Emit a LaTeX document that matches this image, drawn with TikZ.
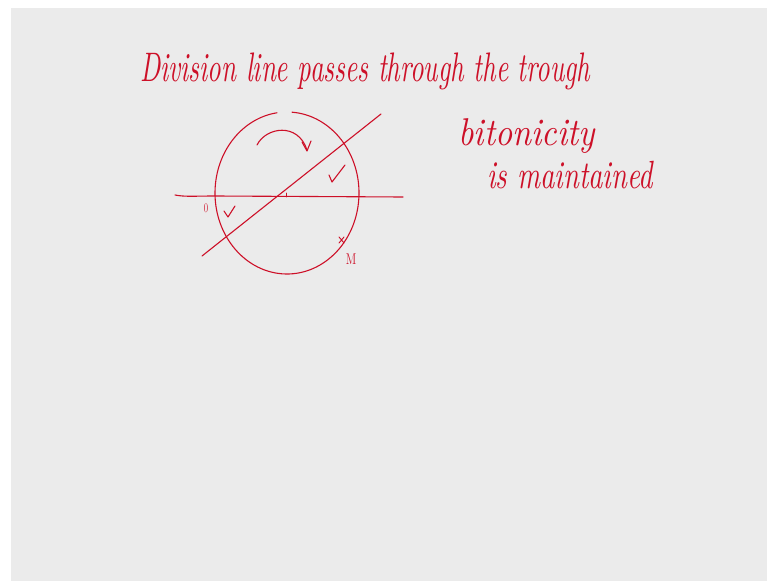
\documentclass[tikz,border=0pt]{standalone}
\usepackage{graphicx}
\definecolor{ink}{RGB}{205,16,40}
\definecolor{board}{RGB}{235,235,235}
\begin{document}
\begin{tikzpicture}[x=1pt,y=-1pt,
  pen/.style={draw=ink,line width=1.1pt,line cap=round,line join=round},
  hand/.style={text=ink,inner sep=0pt,font=\itshape}]
\useasboundingbox (0,0) rectangle (767,580);
\fill[white] (0,0) rectangle (767,580);
\fill[board] (11,8) rectangle (768,581);
% title
\node[hand,anchor=base west] (title) at (140,82)
  {\scalebox{1}[1.55]{\resizebox{450pt}{!}{Division line passes through the trough}}};
% right notes
\node[hand,anchor=base west] (bito) at (458,146)
  {\scalebox{1}[1.15]{\resizebox{137pt}{!}{bitonicity}}};
\node[hand,anchor=base west] (maint) at (487,189)
  {\scalebox{1}[1.4]{\resizebox{166pt}{!}{is maintained}}};
% ellipse with a gap at the top
\draw[pen] (287,193) ++(-86:72 and 81) arc[start angle=-86,end angle=262,x radius=72,y radius=81];
% horizontal line
\draw[pen] (175,195) .. controls (185,197) and (195,196) .. (215,196) -- (403,197);
% diagonal division line
\draw[pen] (202,256) -- (381,114);
% small tick at the crossing
\draw[pen,line width=0.9pt] (286,193) -- (286,197);
% curved arrow
\draw[pen] (257,145) .. controls (266,127) and (298,122) .. (307,150);
\draw[pen] (302,142) -- (307,151) -- (311,141);
% check marks
\draw[pen] (224,211) -- (228,217) -- (235,206);
\draw[pen] (329,175) -- (332,182) -- (345,165);
% small x mark on circle
\draw[pen,line width=0.9pt] (339,237) -- (344,243) (344,237) -- (339,243);
% labels
\node[text=ink,inner sep=0pt,font=\fontsize{11}{11}\selectfont] (O) at (206,208) {\scalebox{0.8}[1.2]{0}};
\node[text=ink,inner sep=0pt,font=\fontsize{13}{13}\selectfont] (M) at (351,259) {\scalebox{0.9}[1.2]{M}};
\end{tikzpicture}
\end{document}
